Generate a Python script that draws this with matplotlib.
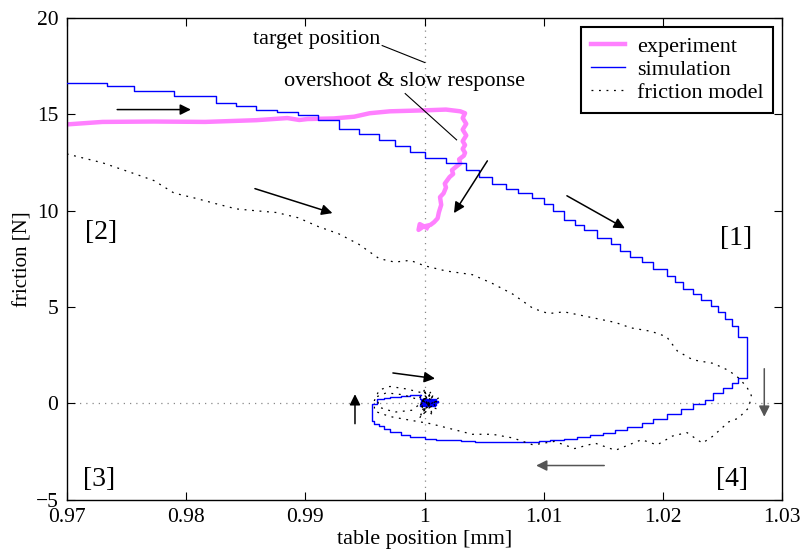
import matplotlib

matplotlib.use("Agg")
import matplotlib.pyplot as plt

plt.rcParams["font.family"] = ["Liberation Serif", "DejaVu Serif"]
plt.rcParams["font.size"] = 16

# experiment: measured friction vs table position
exp_x = [0.9700, 0.9730, 0.9773, 0.9816, 0.9859, 0.9885, 0.9895, 0.9902, 0.9924,
         0.9941, 0.9954, 0.9971, 1.0000, 1.0018, 1.0030, 1.0034, 1.0032, 1.0035,
         1.0032, 1.0035, 1.0032, 1.0034, 1.0032, 1.0034, 1.0033, 1.0029, 1.0030,
         1.0027, 1.0023, 1.0024, 1.0021, 1.0017, 1.0018, 1.0016, 1.0013, 1.0014,
         1.0012, 1.0011, 1.0008, 1.0005, 0.9999, 0.9995, 0.9996, 0.9999, 1.0002]
exp_y = [14.47, 14.60, 14.62, 14.60, 14.69, 14.80, 14.70, 14.75, 14.78,
         14.87, 15.05, 15.15, 15.20, 15.24, 15.15, 15.05, 14.80, 14.50,
         14.20, 13.90, 13.60, 13.40, 13.20, 13.00, 12.85, 12.66, 12.45,
         12.30, 12.10, 11.90, 11.74, 11.40, 11.20, 10.90, 10.70, 10.30,
         9.90, 9.60, 9.40, 9.26, 9.17, 9.00, 9.30, 9.20, 9.10]

# simulation: quantised output, drawn as steps
sim_x = [0.9700, 0.9734, 0.9756, 0.9790, 0.9825, 0.9842, 0.9859, 0.9876, 0.9894,
         0.9911, 0.9928, 0.9945, 0.9962, 0.9975, 0.9988, 1.0000, 1.0018, 1.0035,
         1.0046, 1.0057, 1.0068, 1.0078, 1.0090, 1.0100, 1.0108, 1.0117, 1.0126,
         1.0134, 1.0145, 1.0156, 1.0164, 1.0172, 1.0182, 1.0192, 1.0203, 1.0210,
         1.0217, 1.0225, 1.0232, 1.0240, 1.0246, 1.0252, 1.0258, 1.0263, 1.0270,
         1.0263, 1.0258, 1.0250, 1.0242, 1.0235, 1.0225, 1.0215, 1.0203, 1.0192,
         1.0182, 1.0170, 1.0160, 1.0150, 1.0139, 1.0128, 1.0117, 1.0105, 1.0096,
         1.0085, 1.0074, 1.0063, 1.0053, 1.0042, 1.0031, 1.0020, 1.0010, 1.0000,
         0.9988, 0.9980, 0.9971, 0.9966, 0.9962, 0.9958, 0.9956, 0.9956, 0.9960,
         0.9966, 0.9971, 0.9980, 0.9988, 0.9997, 0.9996, 1.0010, 0.9997, 1.0011,
         0.9998, 1.0010, 0.9996, 1.0009, 0.9998, 1.0011, 0.9997, 1.0005]
sim_y = [16.62, 16.44, 16.20, 15.94, 15.60, 15.42, 15.24, 15.10, 14.96,
         14.69, 14.23, 13.95, 13.67, 13.35, 13.03, 12.75, 12.48, 12.11,
         11.74, 11.37, 11.10, 10.91, 10.64, 10.36, 10.00, 9.53, 9.26,
         8.98, 8.60, 8.25, 7.90, 7.60, 7.33, 6.95, 6.59, 6.30,
         5.95, 5.67, 5.35, 5.05, 4.75, 4.40, 4.00, 3.46, 1.30,
         1.07, 0.80, 0.52, 0.20, -0.04, -0.30, -0.55, -0.80, -1.00,
         -1.20, -1.38, -1.51, -1.62, -1.72, -1.82, -1.88, -1.95, -1.98,
         -2.00, -2.02, -2.00, -1.98, -1.95, -1.92, -1.88, -1.82, -1.75,
         -1.65, -1.50, -1.33, -1.18, -1.05, -0.90, -0.77, -0.04, 0.24,
         0.30, 0.33, 0.38, 0.42, 0.42, 0.25, 0.20, 0.10, 0.05,
         -0.05, -0.10, -0.15, 0.00, 0.15, 0.10, -0.05, 0.05]

# friction model
fm_x = [0.9700, 0.9730, 0.9756, 0.9773, 0.9790, 0.9808, 0.9825, 0.9842, 0.9859,
        0.9876, 0.9894, 0.9911, 0.9928, 0.9945, 0.9962, 0.9975, 0.9988, 1.0000,
        1.0018, 1.0040, 1.0057, 1.0074, 1.0091, 1.0104, 1.0117, 1.0139, 1.0160,
        1.0173, 1.0190, 1.0203, 1.0212, 1.0225, 1.0242, 1.0255, 1.0263, 1.0270,
        1.0274, 1.0272, 1.0263, 1.0255, 1.0242, 1.0233, 1.0220, 1.0208, 1.0195,
        1.0182, 1.0160, 1.0143, 1.0126, 1.0109, 1.0091, 1.0074, 1.0057, 1.0040,
        1.0023, 1.0005, 0.9988, 0.9971, 0.9958, 0.9958, 0.9962, 0.9971, 0.9985,
        0.9998, 1.0002, 0.9990, 0.9975, 0.9962, 0.9960, 0.9968, 0.9982, 0.9995,
        1.0001, 0.9997, 1.0008, 0.9996, 1.0012, 0.9998, 1.0006, 0.9995, 1.0010,
        0.9999, 1.0004, 0.9996, 1.0011, 1.0000, 1.0007, 0.9997, 1.0003]
fm_y = [12.94, 12.48, 11.93, 11.56, 10.91, 10.64, 10.36, 10.09, 9.99,
        9.90, 9.63, 9.17, 8.80, 8.25, 7.51, 7.33, 7.42, 7.14,
        6.87, 6.68, 6.22, 5.67, 4.93, 4.66, 4.75, 4.47, 4.20,
        3.92, 3.74, 3.46, 2.72, 2.26, 2.08, 1.71, 1.34, 0.88,
        0.42, -0.22, -0.77, -0.96, -1.69, -2.06, -1.51, -1.69, -2.15,
        -1.88, -2.43, -2.06, -2.34, -1.97, -2.15, -1.79, -1.60, -1.60,
        -1.33, -1.05, -0.87, -0.68, -0.40, 0.15, 0.70, 0.88, 0.75,
        0.55, 0.30, -0.35, -0.45, -0.20, 0.35, 0.55, 0.45, 0.20,
        0.80, -0.60, 0.50, -0.75, 0.30, -0.40, 0.65, -0.20, 0.10,
        -0.55, 0.45, 0.05, -0.30, 0.60, -0.65, 0.25, -0.10]

# direction arrows: (x0, y0, x1, y1, colour)
arrows = [
    (0.97423, 15.24, 0.98041, 15.24, "k"),
    (0.98578, 11.14, 0.99228, 9.87, "k"),
    (1.00527, 12.58, 1.00247, 9.87, "k"),
    (1.01194, 10.77, 1.01680, 9.08, "k"),
    (1.02849, 1.80, 1.02849, -0.69, "#555555"),
    (1.01507, -3.22, 1.00936, -3.22, "#555555"),
    (0.99417, -1.05, 0.99417, 0.48, "k"),
    (0.99735, 1.58, 1.00088, 1.29, "k"),
]

regions = [("[1]", 1.0248, 8.54), ("[2]", 0.9715, 8.85),
           ("[3]", 0.9714, -3.97), ("[4]", 1.0244, -3.97)]

xticks = [0.97, 0.98, 0.99, 1.00, 1.01, 1.02, 1.03]
xtick_labels = ["0.97", "0.98", "0.99", "1", "1.01", "1.02", "1.03"]
yticks = [-5, 0, 5, 10, 15, 20]

fig = plt.figure(figsize=(8.04, 5.56), dpi=100)
ax = fig.add_axes([0.083, 0.101, 0.890, 0.867])

ax.axhline(0, color="#888888", lw=0.9, ls=(0, (1, 4)), zorder=0)
ax.axvline(1.0, color="#888888", lw=0.9, ls=(0, (1, 4)), zorder=0)

ax.plot(exp_x, exp_y, color="#ff80ff", lw=3.2, label="experiment", zorder=2)
ax.plot(sim_x, sim_y, color="#0000ff", lw=1.0, drawstyle="steps-post",
        label="simulation", zorder=3)
ax.plot(fm_x, fm_y, color="k", lw=0.9, ls=(0, (1.5, 4.5)),
        label="friction model", zorder=3)

for x0, y0, x1, y1, c in arrows:
    ax.annotate("", xy=(x1, y1), xytext=(x0, y0),
                arrowprops=dict(arrowstyle="-|>", color=c, lw=1.1,
                                mutation_scale=16, shrinkA=0, shrinkB=0))

for s, x, y in regions:
    ax.text(x, y, s, fontsize=20, va="center", ha="left")

ax.text(0.98563, 18.87, "target position", va="center", ha="left")
ax.plot([0.99645, 1.00002], [18.56, 17.68], color="k", lw=0.8)
ax.text(0.98824, 16.69, "overshoot & slow response", va="center", ha="left")
ax.plot([0.99838, 1.00269], [16.07, 13.67], color="k", lw=0.8)

ax.set_xlim(0.97, 1.03)
ax.set_ylim(-5, 20)
ax.set_xticks(xticks)
ax.set_xticklabels(xtick_labels)
ax.set_yticks(yticks)
ax.tick_params(direction="in", top=True, right=True, length=6, width=0.8,
               pad=6, labelsize=15.5)
for sp in ax.spines.values():
    sp.set_linewidth(1.0)
ax.set_xlabel("table position [mm]", labelpad=2)
ax.set_ylabel("friction [N]", labelpad=2, fontsize=15)

leg = ax.legend(loc="upper right", fancybox=False, edgecolor="k",
                framealpha=1, handlelength=1.5, borderaxespad=0.4,
                labelspacing=0.1, handletextpad=0.55, borderpad=0.45)
leg.get_frame().set_linewidth(1.5)

fig.savefig("out.png", dpi=100)
